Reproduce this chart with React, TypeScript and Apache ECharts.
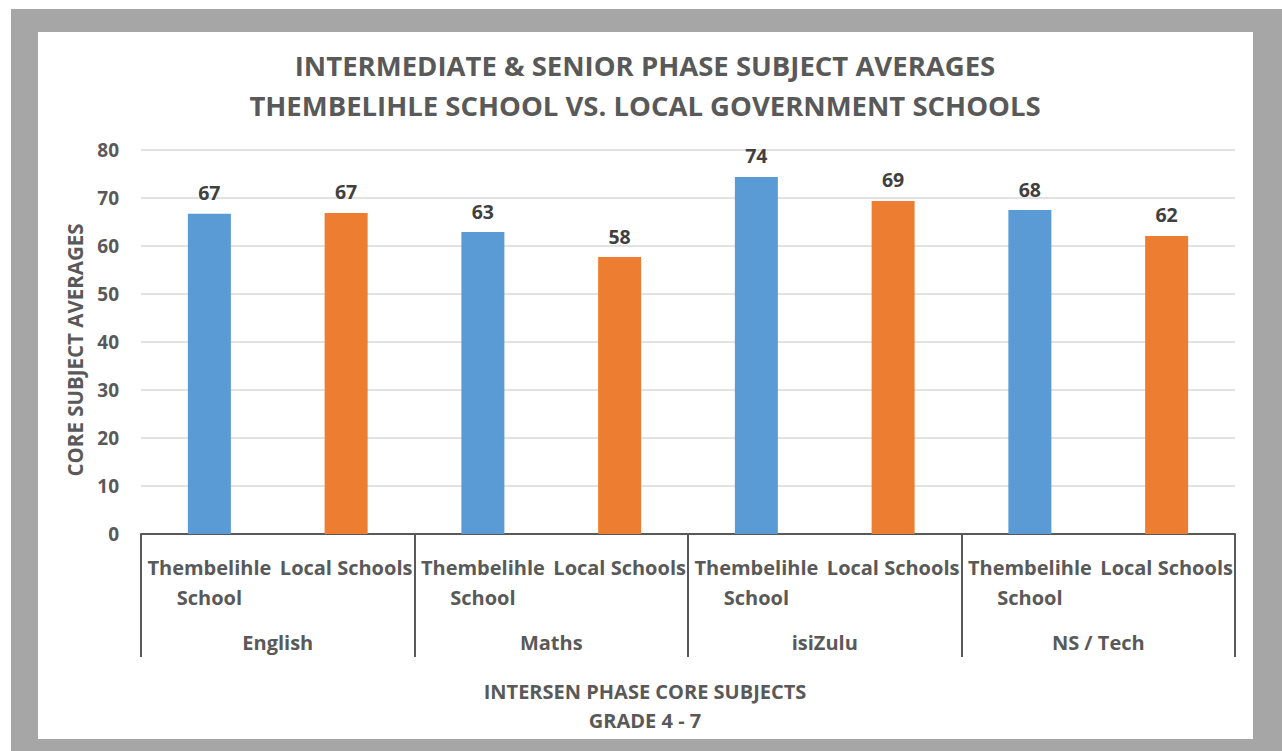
import React, { useEffect, useRef } from "react";
import * as echarts from "echarts";

const titleLines = [
  "INTERMEDIATE & SENIOR PHASE SUBJECT AVERAGES",
  "THEMBELIHLE SCHOOL VS. LOCAL GOVERNMENT SCHOOLS",
];
const subjects = ["English", "Maths", "isiZulu", "NS / Tech"];
const schoolTypes = ["Thembelihle\nSchool", "Local Schools"];
const thembelihleValues = [66.7, 62.9, 74.4, 67.5];
const localValues = [66.9, 57.7, 69.4, 62.1];
const yTicks = { min: 0, max: 80, interval: 10 };
const yAxisName = "CORE SUBJECT AVERAGES";
const xAxisNameLines = ["INTERSEN PHASE CORE SUBJECTS", "GRADE 4 - 7"];

const BLUE = "#5b9bd5";
const ORANGE = "#ed7d31";
const TEXT = "#595959";
const FONT = "'Open Sans', 'Noto Sans', sans-serif";

export default function App() {
  const ref = useRef<HTMLDivElement>(null);
  useEffect(() => {
    if (!ref.current) return;
    const chart = echarts.init(ref.current, undefined, { renderer: "svg" });
    const subCats: string[] = [];
    const barData: any[] = [];
    subjects.forEach((_, i) => {
      subCats.push(schoolTypes[0], schoolTypes[1]);
      barData.push({ value: thembelihleValues[i], itemStyle: { color: BLUE } });
      barData.push({ value: localValues[i], itemStyle: { color: ORANGE } });
    });
    chart.setOption({
      animation: false,
      backgroundColor: "#ffffff",
      textStyle: { fontFamily: FONT },
      graphic: [
        { type: "rect", z: -10, silent: true, shape: { x: 11, y: 9, width: 1271, height: 742 }, style: { fill: "#a6a6a6" } },
        { type: "rect", z: -9, silent: true, shape: { x: 38, y: 32, width: 1215, height: 707 }, style: { fill: "#ffffff" } },
        {
          type: "text", x: 645, y: 65, z: 5,
          style: { text: titleLines[0], fill: TEXT, font: `bold 27.5px ${FONT}`, align: "center", verticalAlign: "middle" },
        },
        {
          type: "text", x: 645, y: 105, z: 5,
          style: { text: titleLines[1], fill: TEXT, font: `bold 27.5px ${FONT}`, align: "center", verticalAlign: "middle" },
        },
        {
          type: "text", x: 645, y: 691, z: 5,
          style: { text: xAxisNameLines[0], fill: TEXT, font: `bold 20px ${FONT}`, align: "center", verticalAlign: "middle" },
        },
        {
          type: "text", x: 645, y: 720, z: 5,
          style: { text: xAxisNameLines[1], fill: TEXT, font: `bold 20px ${FONT}`, align: "center", verticalAlign: "middle" },
        },
        {
          type: "text", x: 75, y: 350, rotation: Math.PI / 2, z: 5,
          style: { text: yAxisName, fill: TEXT, font: `bold 20.5px ${FONT}`, align: "center", verticalAlign: "middle" },
        },
      ],
      grid: { left: 141, right: 47, top: 150, bottom: 217, containLabel: false },
      xAxis: [
        {
          type: "category",
          data: subCats,
          position: "bottom",
          axisLine: { show: true, lineStyle: { color: TEXT, width: 2 } },
          axisTick: { show: false },
          axisLabel: {
            interval: 0, hideOverlap: false, margin: 18, color: TEXT,
            fontFamily: FONT, fontWeight: "bold", fontSize: 20, lineHeight: 30,
          },
        },
        {
          type: "category",
          data: subjects,
          position: "bottom",
          offset: 0,
          axisLine: { show: false },
          axisTick: { show: true, length: 123, interval: 0, lineStyle: { color: TEXT, width: 2 } },
          axisLabel: {
            interval: 0, margin: 98, color: TEXT,
            fontFamily: FONT, fontWeight: "bold", fontSize: 20,
          },
        },
      ],
      yAxis: {
        type: "value",
        min: yTicks.min, max: yTicks.max, interval: yTicks.interval,
        axisLine: { show: false },
        axisTick: { show: false },
        splitLine: { lineStyle: { color: "#d9d9d9", width: 1.5 } },
        axisLabel: { color: TEXT, fontFamily: FONT, fontWeight: "bold", fontSize: 19, margin: 22 },
      },
      series: [
        {
          type: "bar",
          xAxisIndex: 0,
          data: barData,
          barWidth: 43,
          label: {
            show: true, position: "top", distance: 11, color: "#404040",
            fontFamily: FONT, fontWeight: "bold", fontSize: 19.5,
            formatter: (p: any) => String(Math.round(p.value)),
          },
        },
      ],
    });
    return () => chart.dispose();
  }, []);
  return <div ref={ref} style={{ position: "fixed", left: 0, top: 0, width: 1282, height: 751 }} />;
}
